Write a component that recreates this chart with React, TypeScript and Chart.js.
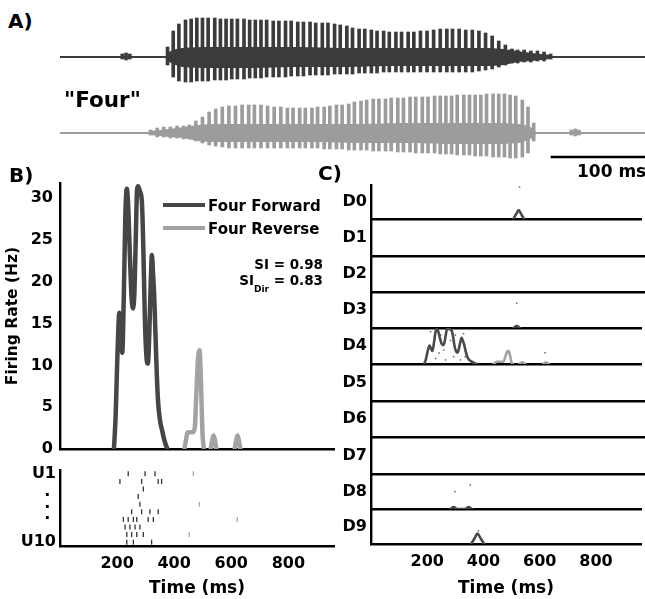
import React, { useEffect, useRef } from "react";
import { Chart, registerables } from "chart.js";

Chart.register(...registerables);

const FONT = "'DejaVu Sans', 'Liberation Sans', sans-serif";
Chart.defaults.font.family = FONT;
Chart.defaults.color = "#000";

// ================= DATA =================
// Panel A: sound waveform of the word "Four" (pulse times in ms, amplitudes in arbitrary units)
const CLIP_MS = 616;
const A_MAX_MS = 620;
const SCALE_BAR_MS = [520, 620];
const SCALE_BAR_LABEL = "100 ms";
const WORD_LABEL = '"Four"';

const PULSE_T = [114, 120, 126, 133, 139, 145, 151, 157, 164, 170, 176, 182, 188, 195, 201, 207, 213, 219, 226, 232,
  239, 245, 252, 258, 265, 271, 278, 284, 291, 297, 304, 310, 317, 323, 330, 336, 343, 349, 356, 362, 369, 375,
  382, 389, 396, 403, 410, 416, 423, 430, 437, 444, 451, 458, 465, 472, 479, 485, 492, 499, 506, 513, 520];
const PULSE_UP = [10, 26, 33, 37, 38, 39, 39, 39, 39, 38, 38, 38, 38, 38, 37, 37, 37, 37, 36, 36,
  36, 36, 35, 35, 35, 34, 34, 34, 33, 32, 31, 29, 28, 28, 27, 26, 26, 25, 25, 25, 25, 25,
  26, 26, 27, 28, 28, 28, 28, 27, 27, 26, 24, 21, 16, 12, 8, 7, 7, 6, 6, 5, 3];
const PULSE_DOWN = [8, 20, 24, 25, 25, 24, 24, 24, 23, 23, 23, 22, 22, 22, 21, 21, 21, 20, 20, 20,
  20, 19, 19, 19, 18, 18, 18, 18, 17, 17, 17, 17, 16, 16, 16, 16, 15, 15, 15, 15, 15, 15,
  15, 15, 15, 15, 15, 15, 15, 15, 15, 14, 13, 12, 10, 8, 6, 6, 5, 5, 4, 4, 2];
const BLIP_T = [66, 70, 74];
const BLIP_UP = [3, 4, 3];
const BLIP_DOWN = [2, 3, 2];
const CORE_T = [112, 120, 130, 160, 200, 250, 300, 350, 400, 450, 470, 485, 500, 520];
const CORE_UP = [3, 7, 9, 10, 10, 10, 9, 9, 9, 9, 8, 6, 4, 2];
const CORE_DOWN = [3, 7, 10, 11, 11, 10, 10, 9, 9, 9, 8, 5, 4, 2];

// Panel B: firing rate (Hz) vs time (ms)
const TIME_MAX_MS = 960;
const TIME_TICKS = [200, 400, 600, 800];
const TIME_TITLE = "Time (ms)";
const RATE_MAX = 31.8;
const RATE_TICKS = [0, 5, 10, 15, 20, 25, 30];
const RATE_TITLE = "Firing Rate (Hz)";
const SERIES_NAMES = ["Four Forward", "Four Reverse"];
const SI_VALUE = "0.98";
const SI_DIR_VALUE = "0.83";

const FWD_T = [189, 195, 201, 208, 213, 218, 224, 229, 234, 239, 245, 251, 256, 261, 266, 270, 274, 280, 287, 292,
  297, 303, 308, 313, 318, 322, 326, 331, 337, 343, 350, 358, 366, 376];
const FWD_HZ = [0, 4, 11, 16.3, 14, 11.5, 19, 28, 31.1, 29, 23, 18, 16.8, 19, 26, 31, 31.4, 30.8, 29.5, 24,
  16, 11, 10.2, 14, 20, 23.2, 21, 17.5, 11, 6, 3.5, 2.2, 1, 0];
const REV_T = [436, 442, 447, 455, 465, 472, 477, 483, 489, 494, 499, 504, 516, 528, 533, 538, 543, 548, 580, 612, 617, 622, 627, 632];
const REV_HZ = [0, 1.2, 2, 2, 2, 2.5, 6, 10.5, 11.8, 8, 2, 0, null, 0, 1, 1.6, 1, 0, null, 0, 1, 1.6, 1, 0];

// Panel B raster: spikes per unit (U1..U10)
const UNIT_TICKS = [1, 4.9, 10];
const UNIT_LABELS = ["U1", [". ", ". ", ". "], "U10"];
const RASTER_FWD_T = [239, 298, 333, 210, 286, 344, 356, 292, 274, 280, 251, 286, 315, 344, 222, 239, 257, 269, 309, 327,
  228, 245, 263, 280, 234, 251, 269, 292, 234, 257, 321];
const RASTER_FWD_UNIT = [1, 1, 1, 2, 2, 2, 2, 3, 4, 5, 6, 6, 6, 6, 7, 7, 7, 7, 7, 7,
  8, 8, 8, 8, 9, 9, 9, 9, 10, 10, 10];
const RASTER_REV_T = [467, 488, 621, 453];
const RASTER_REV_UNIT = [1, 5, 7, 9];

// Panel C: rows D0..D9 (Hz vs ms)
const ROW_LABELS = ["D0", "D1", "D2", "D3", "D4", "D5", "D6", "D7", "D8", "D9"];
const ROW_MAX_HZ = 32;
const D0_T = [506, 517, 525, 533, 544];
const D0_HZ = [0, 5, 8.5, 5, 0];
const D3_T = [506, 518, 530];
const D3_HZ = [0, 1.8, 0];
const D8_T = [282, 294, 306, 335, 347, 359];
const D8_HZ = [0, 1.8, 0, 0, 1.8, 0];
const D9_T = [356, 368, 379, 390, 403];
const D9_HZ = [0, 5, 9.5, 5, 0];
const SPECK_ROW = [4, 4, 4, 4, 4, 4, 4, 4, 4, 4, 4, 4, 4, 4, 4, 4, 3, 0, 8, 8, 9];
const SPECK_T = [212, 224, 242, 259, 265, 283, 294, 312, 329, 335, 230, 248, 300, 318, 483, 619, 518, 528, 298, 353, 382];
const SPECK_HZ = [28.7, 19.8, 9.8, 12.4, 3.6, 21, 6.5, 15.4, 27, 6.5, 5, 25.8, 25.8, 3.6, 9.6, 10, 22, 30, 15.8, 22, 12];

// ================= STYLE =================
const WAVE_FWD_COLOR = "#3b3b3b";
const WAVE_REV_COLOR = "#9c9c9c";
const FWD_COLOR = "#464646";
const REV_COLOR = "#a3a3a3";
const ROW_DARK = "#4a4a4a";
const tickFont = { family: FONT, size: 16, weight: "bold" as const };
const titleFont = { family: FONT, size: 17, weight: "bold" as const };
const axisBorder = { display: true, color: "#000", width: 2.4 };

const ROW_CURVES: { t: number[]; hz: (number | null)[]; light?: boolean }[][] = [
  [{ t: D0_T, hz: D0_HZ }], [], [], [{ t: D3_T, hz: D3_HZ }],
  [{ t: FWD_T, hz: FWD_HZ }, { t: REV_T, hz: REV_HZ, light: true }],
  [], [], [], [{ t: D8_T, hz: D8_HZ }], [{ t: D9_T, hz: D9_HZ }],
];

// ================= HELPERS =================
const baseOptions = (padding: any) => ({
  responsive: false,
  maintainAspectRatio: false,
  animation: false,
  devicePixelRatio: 1,
  layout: { padding },
  plugins: { legend: { display: false }, tooltip: { enabled: false } },
  events: [],
});

function lineDs(t: number[], v: (number | null)[], color: string, width: number) {
  return {
    type: "line",
    data: t.map((x, i) => ({ x, y: v[i] })),
    borderColor: color,
    borderWidth: width,
    pointRadius: 0,
    cubicInterpolationMode: "monotone",
    spanGaps: false,
    borderCapStyle: "round",
    borderJoinStyle: "round",
    fill: false,
  };
}

function waveConfig(reverse: boolean, color: string, extras: any[]) {
  const mapT = (t: number) => (reverse ? CLIP_MS - t : t);
  const pulses = PULSE_T.map((t, i) => ({ x: mapT(t), y: [-PULSE_DOWN[i], PULSE_UP[i]] })).concat(
    BLIP_T.map((t, i) => ({ x: mapT(t), y: [-BLIP_DOWN[i], BLIP_UP[i]] }))
  );
  const coreUp = CORE_T.map((t, i) => ({ x: mapT(t), y: CORE_UP[i] }));
  const coreDown = CORE_T.map((t, i) => ({ x: mapT(t), y: -CORE_DOWN[i] }));
  return {
    type: "bar",
    data: {
      datasets: [
        { type: "line", data: [{ x: 0, y: 0 }, { x: A_MAX_MS, y: 0 }], borderColor: color, borderWidth: 2, pointRadius: 0 },
        { type: "line", data: coreUp, borderWidth: 0, borderColor: color, pointRadius: 0, fill: "+1", backgroundColor: color, tension: 0.3 },
        { type: "line", data: coreDown, borderWidth: 0, borderColor: color, pointRadius: 0, fill: false, tension: 0.3 },
        { type: "bar", data: pulses, backgroundColor: color, barThickness: 3, grouped: false, borderWidth: 0 },
        ...extras,
      ],
    },
    options: {
      ...baseOptions(0),
      scales: {
        x: { type: "linear", min: 0, max: A_MAX_MS, display: false, offset: false },
        y: { min: -33, max: 47, display: false },
      },
    },
  };
}

function hiddenTimeAxis() {
  return {
    type: "linear",
    min: 0,
    max: TIME_MAX_MS,
    ticks: { display: false },
    grid: { display: false, drawTicks: false },
    border: axisBorder,
    afterFit: (s: any) => { s.height = 0; },
  };
}

function shownTimeAxis(pad: number, height: number) {
  return {
    type: "linear",
    min: 0,
    max: TIME_MAX_MS,
    afterBuildTicks: (s: any) => { s.ticks = TIME_TICKS.map((v) => ({ value: v })); },
    ticks: { padding: pad, font: tickFont, color: "#000", maxRotation: 0, autoSkip: false },
    grid: { display: false, drawTicks: false },
    border: axisBorder,
    title: { display: true, text: TIME_TITLE, color: "#000", font: titleFont, padding: { top: 0, bottom: 0 } },
    afterFit: (s: any) => { s.height = height; },
  };
}

function firingRateConfig() {
  return {
    type: "line",
    data: { datasets: [lineDs(FWD_T, FWD_HZ, FWD_COLOR, 4.5), lineDs(REV_T, REV_HZ, REV_COLOR, 4.5)] },
    options: {
      ...baseOptions({ left: 0, top: 20, right: 10, bottom: 20 }),
      scales: {
        x: hiddenTimeAxis(),
        y: {
          min: 0,
          max: RATE_MAX,
          afterBuildTicks: (s: any) => { s.ticks = RATE_TICKS.map((v) => ({ value: v })); },
          ticks: { padding: 7, font: tickFont, color: "#000" },
          grid: { display: false, drawTicks: false },
          border: axisBorder,
          title: { display: true, text: RATE_TITLE, color: "#000", font: { family: FONT, size: 15.5, weight: "bold" }, padding: { top: 4, bottom: 0 } },
          afterFit: (s: any) => { s.width = 60; },
        },
      },
    },
  };
}

function rasterConfig() {
  const spikes = (t: number[], u: number[], color: string) => ({
    type: "scatter",
    data: t.map((x, i) => ({ x, y: u[i] })),
    pointStyle: "line",
    rotation: 90,
    radius: 2.5,
    borderWidth: 1.3,
    borderColor: color,
    backgroundColor: color,
  });
  return {
    type: "scatter",
    data: { datasets: [spikes(RASTER_FWD_T, RASTER_FWD_UNIT, "#333"), spikes(RASTER_REV_T, RASTER_REV_UNIT, "#aaa")] },
    options: {
      ...baseOptions({ left: 0, top: 14, right: 10, bottom: 0 }),
      scales: {
        x: shownTimeAxis(8, 53),
        y: {
          min: 0.5,
          max: 10.5,
          reverse: true,
          afterBuildTicks: (s: any) => { s.ticks = UNIT_TICKS.map((v) => ({ value: v })); },
          ticks: {
            padding: 4,
            color: "#000",
            callback: (_v: any, i: number) => UNIT_LABELS[i],
            font: (ctx: any) =>
              ctx.index === 1
                ? { family: FONT, size: 16, weight: "bold", lineHeight: 0.72 }
                : tickFont,
          },
          grid: { display: false, drawTicks: false },
          border: axisBorder,
          afterFit: (s: any) => { s.width = 60; },
        },
      },
    },
  };
}

function rowConfig(k: number) {
  const last = k === ROW_LABELS.length - 1;
  const datasets: any[] = ROW_CURVES[k].map((c) => lineDs(c.t, c.hz, c.light ? REV_COLOR : ROW_DARK, 2.6));
  const specks = SPECK_T.map((t, i) => ({ t, hz: SPECK_HZ[i], r: SPECK_ROW[i] })).filter((s) => s.r === k);
  if (specks.length) {
    datasets.push({
      type: "scatter",
      data: specks.map((s) => ({ x: s.t, y: s.hz })),
      pointRadius: 0.9,
      pointStyle: "circle",
      backgroundColor: "#777",
      borderWidth: 0,
    });
  }
  return {
    type: "line",
    data: { datasets },
    options: {
      ...baseOptions({ left: 0, top: 14, right: 0, bottom: last ? 0 : 14 }),
      scales: {
        x: last ? shownTimeAxis(8.5, 55) : hiddenTimeAxis(),
        y: {
          min: 0,
          max: ROW_MAX_HZ,
          afterBuildTicks: (s: any) => { s.ticks = [{ value: ROW_MAX_HZ / 2 }]; },
          ticks: { padding: 4, font: tickFont, color: "#000", callback: () => ROW_LABELS[k] },
          grid: { display: false, drawTicks: false },
          border: axisBorder,
          afterFit: (s: any) => { s.width = 40; },
        },
      },
    },
  };
}

// ================= COMPONENTS =================
type Box = { left: number; top: number; width: number; height: number };

function ChartCanvas({ box, make }: { box: Box; make: () => any }) {
  const ref = useRef<HTMLCanvasElement | null>(null);
  useEffect(() => {
    if (!ref.current) return;
    const chart = new Chart(ref.current, make());
    return () => chart.destroy();
  }, []);
  return (
    <canvas
      ref={ref}
      width={box.width}
      height={box.height}
      style={{ position: "absolute", left: box.left, top: box.top, width: box.width, height: box.height }}
    />
  );
}

function Txt(props: { left?: number; right?: number; top: number; size: number; children: any }) {
  const { left, right, top, size, children } = props;
  return (
    <div
      style={{
        position: "absolute",
        left,
        right,
        top,
        fontSize: size,
        lineHeight: 1,
        fontWeight: "bold",
        fontFamily: FONT,
        color: "#000",
        whiteSpace: "pre",
        textAlign: right !== undefined ? "right" : "left",
      }}
    >
      {children}
    </div>
  );
}

const ROW_TOP_PX = 185;
const ROW_BOTTOMS_PX = [219, 256, 292, 328, 364, 401, 437, 474, 509, 544];
const SCALE_BAR_LEVEL = -24;

export default function App() {
  const rows = ROW_LABELS.map((_, k) => {
    const top = k === 0 ? ROW_TOP_PX : ROW_BOTTOMS_PX[k - 1];
    const bottom = ROW_BOTTOMS_PX[k];
    const last = k === ROW_LABELS.length - 1;
    const box = { left: 331, top: top - 14, width: 314, height: bottom - top + 14 + (last ? 55 : 14) };
    return <ChartCanvas key={k} box={box} make={() => rowConfig(k)} />;
  });

  return (
    <div style={{ position: "absolute", left: 0, top: 0, width: 645, height: 599, overflow: "hidden", background: "#fff" }}>
      <ChartCanvas box={{ left: 60, top: 10, width: 585, height: 80 }} make={() => waveConfig(false, WAVE_FWD_COLOR, [])} />
      <ChartCanvas
        box={{ left: 60, top: 86, width: 585, height: 80 }}
        make={() =>
          waveConfig(true, WAVE_REV_COLOR, [
            {
              type: "line",
              data: SCALE_BAR_MS.map((x) => ({ x, y: SCALE_BAR_LEVEL })),
              borderColor: "#000",
              borderWidth: 2.6,
              pointRadius: 0,
            },
          ])
        }
      />
      <ChartCanvas box={{ left: 0, top: 163, width: 344, height: 306 }} make={firingRateConfig} />
      <ChartCanvas box={{ left: 0, top: 456, width: 344, height: 143 }} make={rasterConfig} />
      {rows}

      <Txt left={8} top={11} size={20}>A)</Txt>
      <Txt left={64} top={88.5} size={21.5}>{WORD_LABEL}</Txt>
      <Txt left={577} top={163} size={17}>{SCALE_BAR_LABEL}</Txt>
      <Txt left={9} top={164.5} size={20}>B)</Txt>
      <Txt left={318} top={163} size={20}>C)</Txt>

      <div style={{ position: "absolute", left: 163, top: 202.8, width: 42, height: 4.5, background: FWD_COLOR }} />
      <div style={{ position: "absolute", left: 163, top: 225.5, width: 42, height: 4.5, background: REV_COLOR }} />
      <Txt left={208} top={198.7} size={15}>{SERIES_NAMES[0]}</Txt>
      <Txt left={208} top={221.5} size={15}>{SERIES_NAMES[1]}</Txt>
      <Txt right={322} top={258.4} size={13.5}>{"SI = " + SI_VALUE}</Txt>
      <Txt right={322} top={274} size={13.5}>
        SI<span style={{ fontSize: 9, position: "relative", top: 6.5 }}>Dir</span>{" = " + SI_DIR_VALUE}
      </Txt>
    </div>
  );
}
